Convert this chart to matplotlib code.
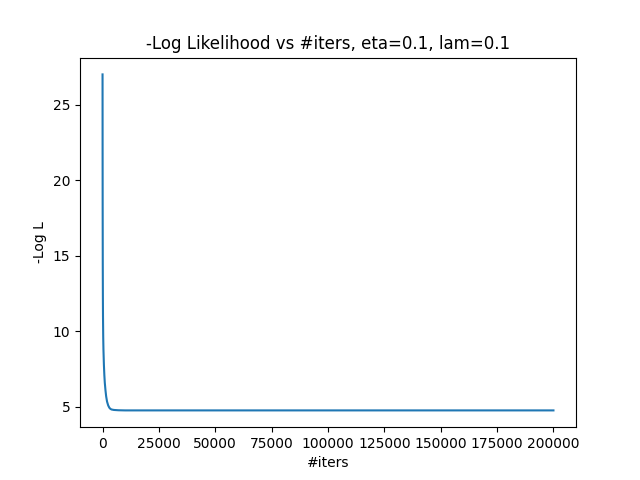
import matplotlib
matplotlib.use('Agg')
import matplotlib.pyplot as plt

# -log likelihood
iters = [0, 25, 50, 100, 150, 200, 300, 400, 600, 800, 1000, 1300, 1600, 2000,
         2500, 3000, 3500, 4000, 5000, 7000, 10000, 50000, 100000, 200000]
neg_log_l = [27.0, 22.0, 18.5, 14.5, 12.3, 11.0, 9.6, 8.8, 7.8, 7.1, 6.6, 6.1,
             5.7, 5.35, 5.1, 4.95, 4.87, 4.83, 4.8, 4.78, 4.77, 4.77, 4.77, 4.77]

eta = 0.1
lam = 0.1

fig, ax = plt.subplots(figsize=(6.4, 4.8), dpi=100)
ax.plot(iters, neg_log_l)
ax.set_xlabel('#iters')
ax.set_ylabel('-Log L')
ax.set_title('-Log Likelihood vs #iters, eta={}, lam={}'.format(eta, lam))
plt.savefig('out.png')
